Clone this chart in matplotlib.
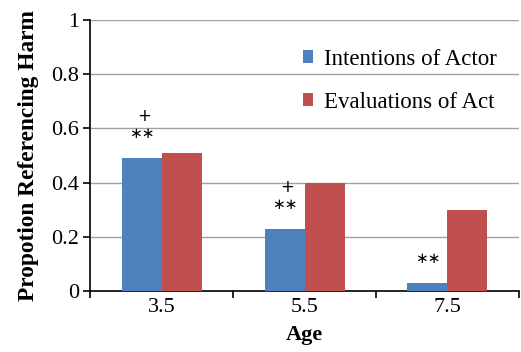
import matplotlib
matplotlib.use("Agg")
import matplotlib.pyplot as plt
import numpy as np

ages = ["3.5", "5.5", "7.5"]
intentions = [0.49, 0.23, 0.03]
evaluations = [0.51, 0.40, 0.30]
series_names = ["Intentions of Actor", "Evaluations of Act"]
plus_marks = ["+", "+", ""]
star_marks = ["**", "**", "**"]
yticks = [0, 0.2, 0.4, 0.6, 0.8, 1]
ytick_labels = ["0", "0.2", "0.4", "0.6", "0.8", "1"]

plt.rcParams['font.family'] = ['Liberation Serif', 'DejaVu Serif']

fig = plt.figure(figsize=(5.21, 3.52), dpi=100)
ax = fig.add_axes([0.173, 0.173, 0.823, 0.770])

x = np.arange(len(ages))
w = 0.28
blue = "#4F81BD"
red = "#C0504D"
ax.bar(x - w/2, intentions, w, color=blue, label=series_names[0], zorder=3)
ax.bar(x + w/2, evaluations, w, color=red, label=series_names[1], zorder=3)

ax.set_xlim(-0.5, 2.5)
ax.set_ylim(0, 1)
ax.set_yticks(yticks)
ax.set_yticklabels(ytick_labels, fontsize=16)
ax.yaxis.grid(True, color="#a0a0a0", linewidth=1.0, zorder=0)
ax.set_axisbelow(True)

ax.set_xticks(x)
ax.set_xticklabels(ages, fontsize=16)
ax.set_xticks([-0.5, 0.5, 1.5, 2.5], minor=True)
ax.tick_params(axis='x', which='major', length=0, pad=5)
ax.tick_params(axis='x', which='minor', length=5, width=1.2, direction='out')
ax.tick_params(axis='y', length=5, width=1.2, direction='out', pad=3)

for s in ["top", "right"]:
    ax.spines[s].set_visible(False)
ax.spines["left"].set_linewidth(1.2)
ax.spines["bottom"].set_linewidth(1.2)

for i in range(len(ages)):
    top = intentions[i]
    if star_marks[i]:
        ax.text(x[i] - w/2, top + 0.09, star_marks[i].replace("*", "\u2217"), ha="center",
                va="center", fontsize=11, family=['DejaVu Sans'])
    if plus_marks[i]:
        ax.text(x[i] - w/2 + 0.02, top + 0.155, plus_marks[i], ha="center", va="center",
                fontsize=12, family=['DejaVu Sans'])

ax.set_ylabel("Propotion Referencing Harm", fontsize=16.8, fontweight="bold", labelpad=9)
ax.set_xlabel("Age", fontsize=16, fontweight="bold", labelpad=6)

leg = ax.legend(loc="upper left", bbox_to_anchor=(0.475, 0.928), frameon=False,
                fontsize=16.5, handlelength=0.45, handleheight=0.45, handletextpad=0.45,
                labelspacing=0.95, borderaxespad=0)

fig.savefig("out.png", dpi=100)
